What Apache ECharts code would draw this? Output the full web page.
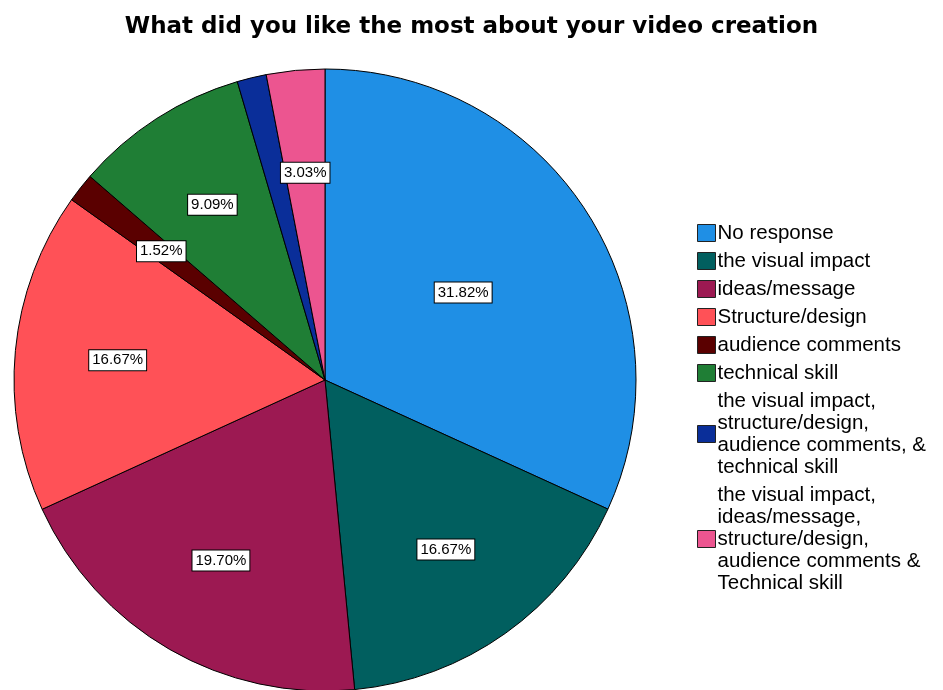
<!DOCTYPE html>
<html>
<head>
<meta charset="utf-8">
<script src="https://cdn.jsdelivr.net/npm/echarts@6/dist/echarts.min.js"></script>
<style>
  html, body { margin: 0; padding: 0; background: #fff; }
  #main { width: 943px; height: 690px; }
</style>
</head>
<body>
<div id="main"></div>
<script>
// 数据
const categories = [
  'No response',
  'the visual impact',
  'ideas/message',
  'Structure/design',
  'audience comments',
  'technical skill',
  'the visual impact,\nstructure/design,\naudience comments, &\ntechnical skill',
  'the visual impact,\nideas/message,\nstructure/design,\naudience comments &\nTechnical skill'
];
const percents = [31.82, 16.67, 19.70, 16.67, 1.52, 9.09, 1.52, 3.03];
const colors = ['#1F8FE5', '#015F5F', '#9C1952', '#FF5157', '#5A0000', '#1F7E35', '#0A2E99', '#EC5590'];
// SPSS hid the label of the small blue slice
const showLabel = [true, true, true, true, true, true, false, true];

const center = [325, 380];
const R = 311;

const labelStyle = {
  color: '#000',
  fontFamily: 'Liberation Sans, Arial, sans-serif',
  fontSize: 15,
  backgroundColor: '#fff',
  borderColor: '#000',
  borderWidth: 1,
  padding: [3, 3, 2, 3]
};

var myChart = echarts.init(document.getElementById('main'), null, { renderer: 'canvas' });
myChart.setOption({
  animation: false,
  title: {
    text: 'What did you like the most about your video creation',
    left: 'center',
    top: 11,
    textStyle: {
      fontFamily: 'DejaVu Sans, sans-serif',
      fontWeight: 'bold',
      fontSize: 23,
      color: '#000'
    }
  },
  legend: {
    orient: 'vertical',
    left: 692,
    top: 217,
    itemWidth: 18,
    itemHeight: 17,
    itemGap: 6,
    icon: 'rect',
    data: categories,
    itemStyle: { borderColor: '#222', borderWidth: 1 },
    textStyle: {
      fontFamily: 'Liberation Sans, Arial, sans-serif',
      fontSize: 20.5,
      lineHeight: 22,
      color: '#000',
      padding: [0, 0, 0, -3]
    }
  },
  series: [
    {
      type: 'pie',
      center: center,
      radius: [0, R],
      startAngle: 90,
      clockwise: true,
      silent: true,
      label: { show: false },
      labelLine: { show: false },
      itemStyle: { borderColor: '#000', borderWidth: 1 },
      data: categories.map((c, i) => ({
        name: c, value: percents[i], itemStyle: { color: colors[i] }
      }))
    },
    {
      // transparent overlay only to place the percentage labels
      type: 'pie',
      center: center,
      radius: [R * 0.32, R],
      startAngle: 90,
      clockwise: true,
      silent: true,
      legendHoverLink: false,
      itemStyle: { color: 'rgba(0,0,0,0)', borderWidth: 0 },
      labelLine: { show: false },
      label: Object.assign({ show: true, position: 'inside' }, labelStyle, {
        formatter: p => p.value.toFixed(2) + '%'
      }),
      data: categories.map((c, i) => ({
        name: c + ' ',
        value: percents[i],
        label: i === 0 ? { show: true, offset: [-37, 25] } : { show: showLabel[i] }
      }))
    }
  ]
});
</script>
</body>
</html>
